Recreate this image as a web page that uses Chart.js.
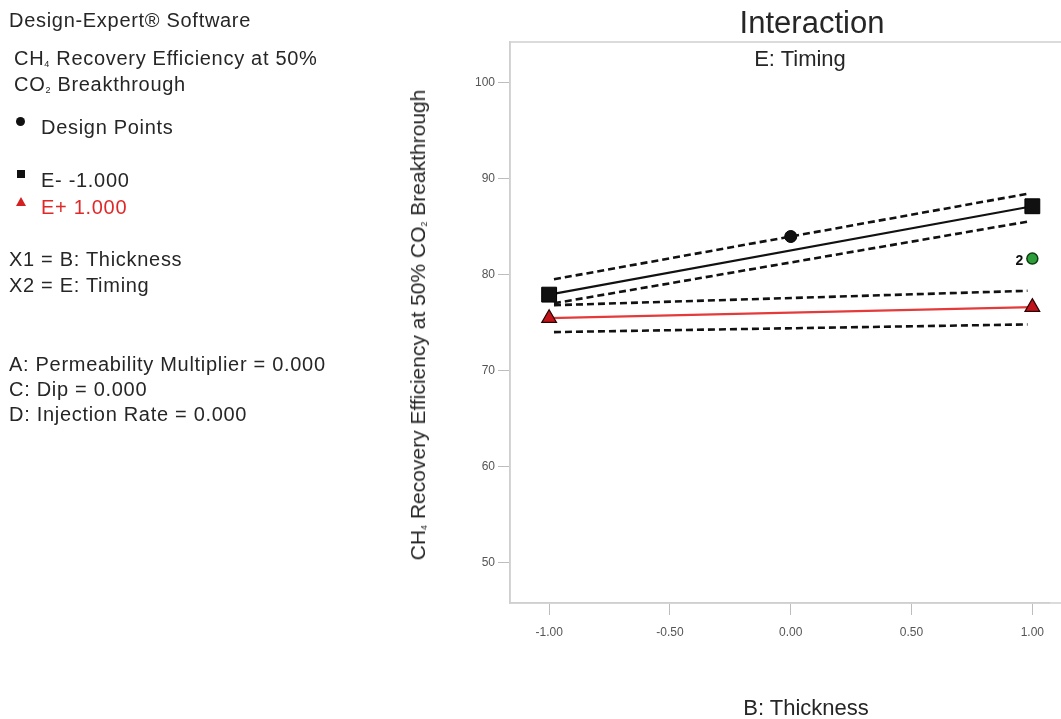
<!DOCTYPE html>
<html>
<head>
<meta charset="utf-8">
<script src="https://cdn.jsdelivr.net/npm/chart.js@4.4.1/dist/chart.umd.min.js"></script>
<style>
  body { margin: 0; background: #fff; font-family: "Liberation Sans", Arial, sans-serif; color: #262626; }
  #wrap { position: relative; width: 1061px; height: 719px; overflow: hidden; }
  #chart { position: absolute; left: 0; top: 0; }
  .txt { position: absolute; font-size: 20px; letter-spacing: 0.7px; white-space: nowrap; line-height: 1; }
  .c { transform: translate(-50%, -50%); letter-spacing: 0; }
  sub { font-size: 9px; vertical-align: -2px; }
  .mk { position: absolute; }
</style>
</head>
<body>
<div id="wrap">
  <canvas id="chart" width="1061" height="719"></canvas>

  <!-- painel lateral -->
  <div class="txt" style="left:9px; top:10px;">Design-Expert® Software</div>
  <div class="txt" style="left:14px; top:48px;">CH<sub>4</sub> Recovery Efficiency at 50%</div>
  <div class="txt" style="left:14px; top:74px;">CO<sub>2</sub> Breakthrough</div>
  <div class="mk" style="left:16px; top:117px; width:9px; height:9px; border-radius:50%; background:#111;"></div>
  <div class="txt" style="left:41px; top:117px;">Design Points</div>
  <div class="mk" style="left:17px; top:170px; width:8px; height:8px; background:#111;"></div>
  <div class="txt" style="left:41px; top:170px;">E- -1.000</div>
  <div class="mk" style="left:16px; top:197px; width:0; height:0; border-left:5px solid transparent; border-right:5px solid transparent; border-bottom:9px solid #d42020;"></div>
  <div class="txt" style="left:41px; top:197px; color:#e02828;">E+ 1.000</div>
  <div class="txt" style="left:9px; top:249px;">X1 = B: Thickness</div>
  <div class="txt" style="left:9px; top:275px;">X2 = E: Timing</div>
  <div class="txt" style="left:9px; top:354px;">A: Permeability Multiplier = 0.000</div>
  <div class="txt" style="left:9px; top:379px;">C: Dip = 0.000</div>
  <div class="txt" style="left:9px; top:404px;">D: Injection Rate = 0.000</div>

  <!-- títulos -->
  <div class="txt c" style="left:812px; top:22px; font-size:31px;">Interaction</div>
  <div class="txt c" style="left:800px; top:59px; font-size:22px;">E: Timing</div>
  <div class="txt c" style="left:806px; top:708px; font-size:22px;">B: Thickness</div>
  <div class="txt c" style="left:418px; top:325px; font-size:21px; transform: translate(-50%, -50%) rotate(-90deg);">CH<sub>4</sub> Recovery Efficiency at 50% CO<sub>2</sub> Breakthrough</div>
</div>

<script>
// Eixos
const xTicks = [-1, -0.5, 0, 0.5, 1];
const yTicks = [50, 60, 70, 80, 90, 100];

// Extremos do fator B
const xEnds = [-1, 1];
const ciX = [-0.98, 0.98];

// E- (-1.000)
const eMinus = [77.9, 87.1];
const eMinusUpper = [79.5, 88.4];
const eMinusLower = [77.0, 85.5];

// E+ (1.000)
const ePlus = [75.45, 76.6];
const ePlusUpper = [76.8, 78.3];
const ePlusLower = [74.0, 74.8];

// Pontos de projeto
const designX = [0];
const designY = [83.95];
const repX = [1];
const repY = [81.65];
const repLabels = ['2'];

const pts = (xs, ys) => xs.map((x, i) => ({ x: x, y: ys[i] }));

function dashed(ys) {
    return {
        data: pts(ciX, ys), showLine: true, pointRadius: 0,
        borderColor: '#111', borderWidth: 2.6, borderDash: [7, 4]
    };
}

// Moldura da área do gráfico e rótulo de repetições
const framePlugin = {
    id: 'frame',
    beforeDatasetsDraw(chart) {
        const a = chart.chartArea, ctx = chart.ctx;
        ctx.save();
        ctx.strokeStyle = '#cfcfcf';
        ctx.lineWidth = 1.5;
        ctx.strokeRect(a.left, a.top, chart.width + 20 - a.left, a.bottom - a.top);
        ctx.restore();
    },
    afterDatasetsDraw(chart) {
        const ctx = chart.ctx, xs = chart.scales.x, ys = chart.scales.y;
        ctx.save();
        ctx.font = 'bold 14px "Liberation Sans", Arial, sans-serif';
        ctx.fillStyle = '#111';
        ctx.textAlign = 'right';
        ctx.textBaseline = 'middle';
        repLabels.forEach((t, i) => {
            ctx.fillText(t, xs.getPixelForValue(repX[i]) - 9, ys.getPixelForValue(repY[i]) + 3);
        });
        ctx.restore();
    }
};

new Chart(document.getElementById('chart'), {
    type: 'scatter',
    data: {
        datasets: [
            dashed(eMinusUpper),
            dashed(eMinusLower),
            dashed(ePlusUpper),
            dashed(ePlusLower),
            {
                data: pts(xEnds, ePlus), showLine: true,
                borderColor: '#e43a3a', borderWidth: 2.2,
                pointStyle: 'triangle', pointRadius: 8.5,
                pointBackgroundColor: '#c0141a', pointBorderColor: '#2a0000', pointBorderWidth: 1.2
            },
            {
                data: pts(xEnds, eMinus), showLine: true,
                borderColor: '#111', borderWidth: 2.2,
                pointStyle: 'rect', pointRadius: 10.5,
                pointBackgroundColor: '#111', pointBorderColor: '#000', pointBorderWidth: 1
            },
            {
                data: pts(designX, designY), showLine: false,
                pointStyle: 'circle', pointRadius: 6,
                pointBackgroundColor: '#111', pointBorderColor: '#000', pointBorderWidth: 1
            },
            {
                data: pts(repX, repY), showLine: false,
                pointStyle: 'circle', pointRadius: 5.5,
                pointBackgroundColor: '#2e9e3a', pointBorderColor: '#0d3d12', pointBorderWidth: 1.5
            }
        ]
    },
    options: {
        responsive: false,
        animation: false,
        devicePixelRatio: 1,
        layout: { padding: { left: 400, top: 42, right: 0, bottom: 76 } },
        plugins: { legend: { display: false }, tooltip: { enabled: false }, title: { display: false } },
        scales: {
            x: {
                type: 'linear', min: -1.162, max: 1.071,
                afterFit: s => { s.height = 40; },
                afterBuildTicks: s => { s.ticks = xTicks.map(v => ({ value: v })); },
                ticks: {
                    color: '#555', padding: 10,
                    font: { size: 12, family: '"Liberation Sans", Arial, sans-serif' },
                    callback: v => v.toFixed(2)
                },
                grid: { drawOnChartArea: false, color: '#bdbdbd', tickLength: 12 },
                border: { color: '#cfcfcf', width: 1.5 }
            },
            y: {
                type: 'linear', min: 45.8, max: 104.2,
                afterFit: s => { s.width = 110; },
                afterBuildTicks: s => { s.ticks = yTicks.map(v => ({ value: v })); },
                ticks: {
                    color: '#555', padding: 3,
                    font: { size: 12, family: '"Liberation Sans", Arial, sans-serif' }
                },
                grid: { drawOnChartArea: false, color: '#bdbdbd', tickLength: 12 },
                border: { color: '#cfcfcf', width: 1.5 }
            }
        }
    },
    plugins: [framePlugin]
});
</script>
</body>
</html>
